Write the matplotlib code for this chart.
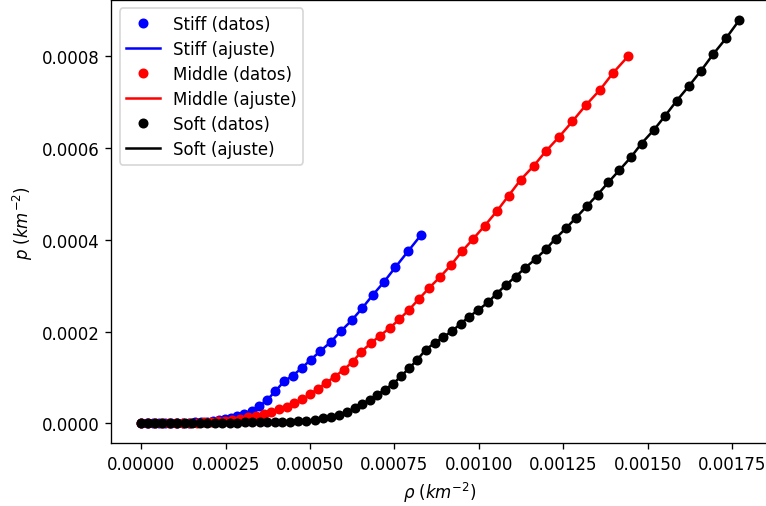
import numpy as np
import matplotlib.pyplot as plt

# densidad rho (en unidades de 1e-5 km^-2) y presion p (en unidades de 1e-6 km^-2)
rho_stiff = [0, 1.72, 3.50, 5.27, 7.05, 8.83, 10.60, 12.38, 14.16, 15.94, 17.71, 19.49,
             21.27, 23.05, 24.82, 26.60, 28.38, 30.45, 32.73, 34.98, 37.35, 39.72, 42.30,
             44.88, 47.54, 50.21, 52.96, 56.13, 59.09, 62.35, 65.49, 68.66, 71.83, 75.27,
             79.03, 82.88]
p_stiff = [0, 0.01, 0.03, 0.07, 0.15, 0.3, 0.5, 0.85, 1.3, 1.9, 2.7, 3.8,
           5.3, 7.2, 9.5, 12.5, 16.0, 20.9, 27.5, 37.1, 51.4, 69.8, 91.6,
           103.8, 120.5, 138.6, 156.9, 177.2, 200.5, 224.5, 251.3, 280.3, 307.4, 340.1,
           374.9, 410.5]

rho_middle = [0, 2.01, 4.09, 6.16, 8.23, 10.31, 12.38, 14.45, 16.53, 18.60, 20.68, 22.75,
              24.82, 26.90, 29.27, 31.64, 34.00, 36.29, 38.54, 40.82, 43.10, 45.35, 47.72,
              50.09, 52.37, 54.83, 57.32, 59.98, 62.65, 65.20, 67.98, 70.73, 73.61, 76.45,
              79.41, 82.38, 85.25, 88.51, 91.77, 95.02, 98.37, 101.75, 105.30, 108.86,
              112.35, 116.29, 119.85, 123.82, 127.75, 131.66, 135.90, 139.75, 144.19]
p_middle = [0, 0.01, 0.03, 0.07, 0.15, 0.3, 0.5, 0.8, 1.25, 1.9, 2.8, 4.0,
            5.6, 7.6, 10.0, 13.0, 16.6, 20.3, 25.3, 31.2, 36.2, 43.6, 52.3,
            63.9, 75.4, 88.5, 101.6, 116.8, 134.3, 156.1, 174.4, 191.0, 207.7, 226.7,
            248.1, 272.0, 294.9, 318.9, 345.1, 374.9, 402.4, 430.7, 462.1, 496.6,
            530.4, 561.5, 593.1, 624.7, 658.5, 693.2, 727.0, 763.6, 800.0]

rho_soft = [0, 2.01, 4.09, 6.16, 8.53, 10.60, 12.97, 15.05, 17.42, 19.49, 21.86, 23.93,
            26.30, 28.38, 30.75, 32.82, 35.19, 37.26, 39.63, 41.71, 44.08, 46.36, 48.73,
            51.48, 53.76, 56.22, 58.68, 60.87, 63.33, 65.46, 67.77, 69.99, 72.16, 74.56,
            76.90, 79.32, 81.78, 84.30, 86.88, 89.43, 92.09, 94.58, 97.16, 99.85, 102.73,
            105.30, 108.09, 110.93, 113.77, 116.82, 119.85, 122.72, 125.77, 128.85,
            131.93, 135.22, 138.36, 141.62, 145.02, 148.19, 151.90, 155.07, 158.62,
            162.17, 165.82, 169.46, 173.22, 177.16]
p_soft = [0, 0.05, 0.1, 0.2, 0.3, 0.4, 0.5, 0.6, 0.75, 0.9, 1.05, 1.2,
          1.4, 1.6, 1.8, 2.0, 2.2, 2.5, 2.8, 3.1, 3.5, 4.36, 5.67,
          7.85, 10.9, 14.4, 18.1, 24.0, 33.4, 43.2, 51.2, 62.1, 73.7, 85.7,
          102.5, 119.9, 138.4, 160.9, 174.8, 187.7, 201.0, 216.9, 232.6, 247.0, 263.8,
          282.9, 301.9, 320.0, 339.2, 358.2, 379.3, 402.6, 425.1, 448.4,
          473.0, 498.7, 525.3, 551.7, 579.8, 609.9, 640.0, 669.2, 703.2,
          734.6, 768.6, 805.0, 839.2, 879.1]

modelos = [
    ("Stiff", rho_stiff, p_stiff, "blue"),
    ("Middle", rho_middle, p_middle, "red"),
    ("Soft", rho_soft, p_soft, "black"),
]

fig = plt.figure(figsize=(766 / 120, 507 / 120), dpi=120)
ax = fig.add_axes([0.1453, 0.1233, 0.8589, 0.875])

for nombre, rho, p, color in modelos:
    rho = np.array(rho) * 1e-5
    p = np.array(p) * 1e-6
    ax.plot(rho, p, "o", color=color, markersize=5, label=nombre + " (datos)")
    ax.plot(rho, p, "-", color=color, linewidth=1.5, label=nombre + " (ajuste)")

ax.set_xlabel(r"$\rho$ $(km^{-2})$")
ax.set_ylabel(r"$p$ $(km^{-2})$")
ax.legend(loc="upper left", labelspacing=0.42)

fig.savefig("out.png", dpi=120)
